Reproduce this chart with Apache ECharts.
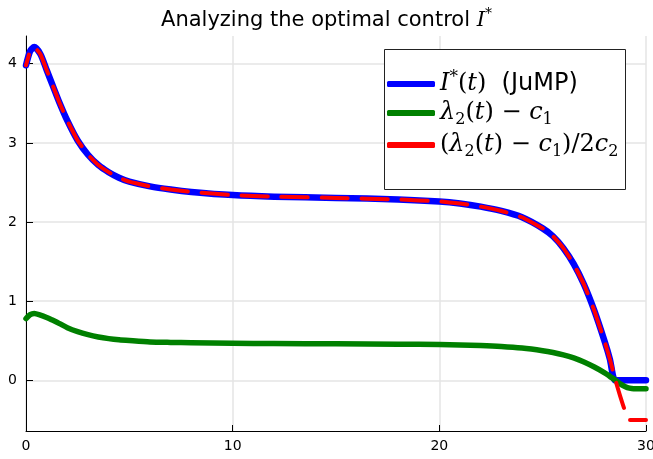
<!DOCTYPE html>
<html>
<head>
<meta charset="utf-8">
<script src="https://cdn.jsdelivr.net/npm/echarts@6/dist/echarts.min.js"></script>
<style>
html,body{margin:0;padding:0;background:#fff;}
#chart{width:653px;height:459px;}
</style>
</head>
<body>
<div id="chart"></div>
<script>
// ---- data ----
const tValues = [0, 0.2, 0.4, 0.7, 1.0, 1.3, 1.6, 2.0, 2.5, 3.0, 3.5, 4.0, 4.5, 5, 6, 7, 8, 10, 12, 15, 18, 20, 21, 22, 23, 24, 25, 25.5, 26, 26.5, 27, 27.5, 28, 28.25, 28.5, 28.75, 29, 29.2, 29.4, 30];
const iStarJuMP = [3.98, 4.16, 4.21, 4.12, 3.92, 3.72, 3.52, 3.28, 3.03, 2.85, 2.72, 2.63, 2.56, 2.51, 2.45, 2.41, 2.38, 2.34, 2.32, 2.305, 2.285, 2.26, 2.235, 2.195, 2.14, 2.06, 1.92, 1.82, 1.67, 1.47, 1.21, 0.88, 0.49, 0.27, 0.0, 0, 0, 0, 0, 0];
const lambdaMinusC1 = [0.78, 0.83, 0.845, 0.825, 0.795, 0.758, 0.72, 0.665, 0.615, 0.577, 0.548, 0.527, 0.512, 0.502, 0.485, 0.479, 0.475, 0.469, 0.465, 0.461, 0.457, 0.452, 0.447, 0.44, 0.428, 0.408, 0.375, 0.352, 0.322, 0.283, 0.232, 0.168, 0.095, 0.05, 0.005, -0.045, -0.08, -0.098, -0.105, -0.105];
const ratioCurve = [3.98, 4.16, 4.21, 4.12, 3.92, 3.72, 3.52, 3.28, 3.03, 2.85, 2.72, 2.63, 2.56, 2.51, 2.45, 2.41, 2.38, 2.34, 2.32, 2.305, 2.285, 2.26, 2.235, 2.195, 2.14, 2.06, 1.92, 1.82, 1.67, 1.47, 1.21, 0.88, 0.49, 0.27, 0.02, -0.2, -0.4, -0.5, -0.5, -0.5];
const seriesNames = ['I*(t) (JuMP)', 'λ2(t) − c1', '(λ2(t) − c1)/2c2'];
const xTicks = [0, 10, 20, 30];
const yTicks = [0, 1, 2, 3, 4];

const legendText = {
  'I*(t) (JuMP)': '{mi|I}{sup|*}{mr|(}{mi|t}{mr|)}{s|  (JuMP)}',
  'λ2(t) − c1': '{mi|λ}{sub|2}{mr|(}{mi|t}{mr|) − }{mi|c}{sub|1}',
  '(λ2(t) − c1)/2c2': '{mr|(}{mi|λ}{sub|2}{mr|(}{mi|t}{mr|) − }{mi|c}{sub|1}{mr|)/2}{mi|c}{sub|2}'
};

function pairs(ys) { return tValues.map((t, i) => [t, ys[i]]); }

const chart = echarts.init(document.getElementById('chart'), null, {renderer: 'canvas'});
const serif = 'DejaVu Serif';
const sans = 'DejaVu Sans';
chart.setOption({
  animation: false,
  backgroundColor: '#ffffff',
  title: {
    text: '{t|Analyzing the optimal control }{mi|I}{sup|*}',
    left: 'center',
    top: 2,
    textStyle: {
      fontWeight: 'normal',
      rich: {
        t: {fontFamily: sans, fontSize: 21, fontWeight: 'normal', color: '#000', lineHeight: 28},
        mi: {fontFamily: serif, fontStyle: 'italic', fontWeight: 'normal', fontSize: 21, color: '#000', lineHeight: 28},
        sup: {fontFamily: serif, fontSize: 14, fontWeight: 'normal', color: '#000', lineHeight: 14, verticalAlign: 'top'}
      }
    }
  },
  grid: {left: 26, right: 7, top: 36, bottom: 28, containLabel: false, outerBoundsMode: 'none'},
  xAxis: {
    type: 'value', min: 0, max: 30, interval: 10,
    axisLine: {show: true, onZero: false, lineStyle: {color: '#000', width: 1}},
    axisTick: {show: true, inside: true, length: 6, lineStyle: {color: '#000'}},
    axisLabel: {color: '#000', fontFamily: sans, fontSize: 14, margin: 8, customValues: xTicks},
    splitLine: {show: true, lineStyle: {color: '#e4e4e4', width: 1.5}}
  },
  yAxis: {
    type: 'value', min: -0.64, max: 4.35,
    axisLine: {show: true, onZero: false, lineStyle: {color: '#000', width: 1}},
    axisTick: {show: true, inside: true, length: 7, lineStyle: {color: '#000'}, customValues: yTicks},
    axisLabel: {color: '#000', fontFamily: sans, fontSize: 14, margin: 9, customValues: yTicks},
    splitLine: {show: true, lineStyle: {color: '#e4e4e4', width: 1.5}}
  },
  graphic: [{
    type: 'rect', z: 10,
    shape: {x: 384.5, y: 49.5, width: 241, height: 140},
    style: {fill: '#ffffff', stroke: '#222222', lineWidth: 1}
  }],
  legend: {
    z: 20,
    orient: 'vertical',
    left: 387, top: 69,
    padding: 0,
    itemGap: 5,
    itemWidth: 48, itemHeight: 6,
    icon: 'roundRect',
    selectedMode: false,
    data: seriesNames,
    formatter: function (name) { return legendText[name]; },
    textStyle: {
      rich: {
        mi: {fontFamily: serif, fontStyle: 'italic', fontSize: 24, color: '#000', lineHeight: 30},
        mr: {fontFamily: serif, fontSize: 24, color: '#000', lineHeight: 30},
        s: {fontFamily: sans, fontSize: 24, color: '#000', lineHeight: 30},
        sub: {fontFamily: serif, fontSize: 16, color: '#000', lineHeight: 16, verticalAlign: 'bottom'},
        sup: {fontFamily: serif, fontSize: 17, color: '#000', lineHeight: 17, verticalAlign: 'top'}
      }
    }
  },
  series: [
    {
      name: seriesNames[0], type: 'line', data: pairs(iStarJuMP),
      showSymbol: false, symbol: 'none', smooth: 0.25,
      color: '#0000ff',
      lineStyle: {color: '#0000ff', width: 6.5, cap: 'round', join: 'round'},
      z: 2
    },
    {
      name: seriesNames[1], type: 'line', data: pairs(lambdaMinusC1),
      showSymbol: false, symbol: 'none', smooth: 0.25,
      color: '#008000',
      lineStyle: {color: '#008000', width: 5.5, cap: 'round', join: 'round'},
      z: 3
    },
    {
      name: seriesNames[2], type: 'line', data: pairs(ratioCurve),
      showSymbol: false, symbol: 'none', smooth: 0.1,
      color: '#ff0000',
      lineStyle: {color: '#ff0000', width: 4, type: [26, 14], dashOffset: 15, cap: 'round', join: 'round'},
      z: 4
    }
  ]
});
</script>
</body>
</html>
